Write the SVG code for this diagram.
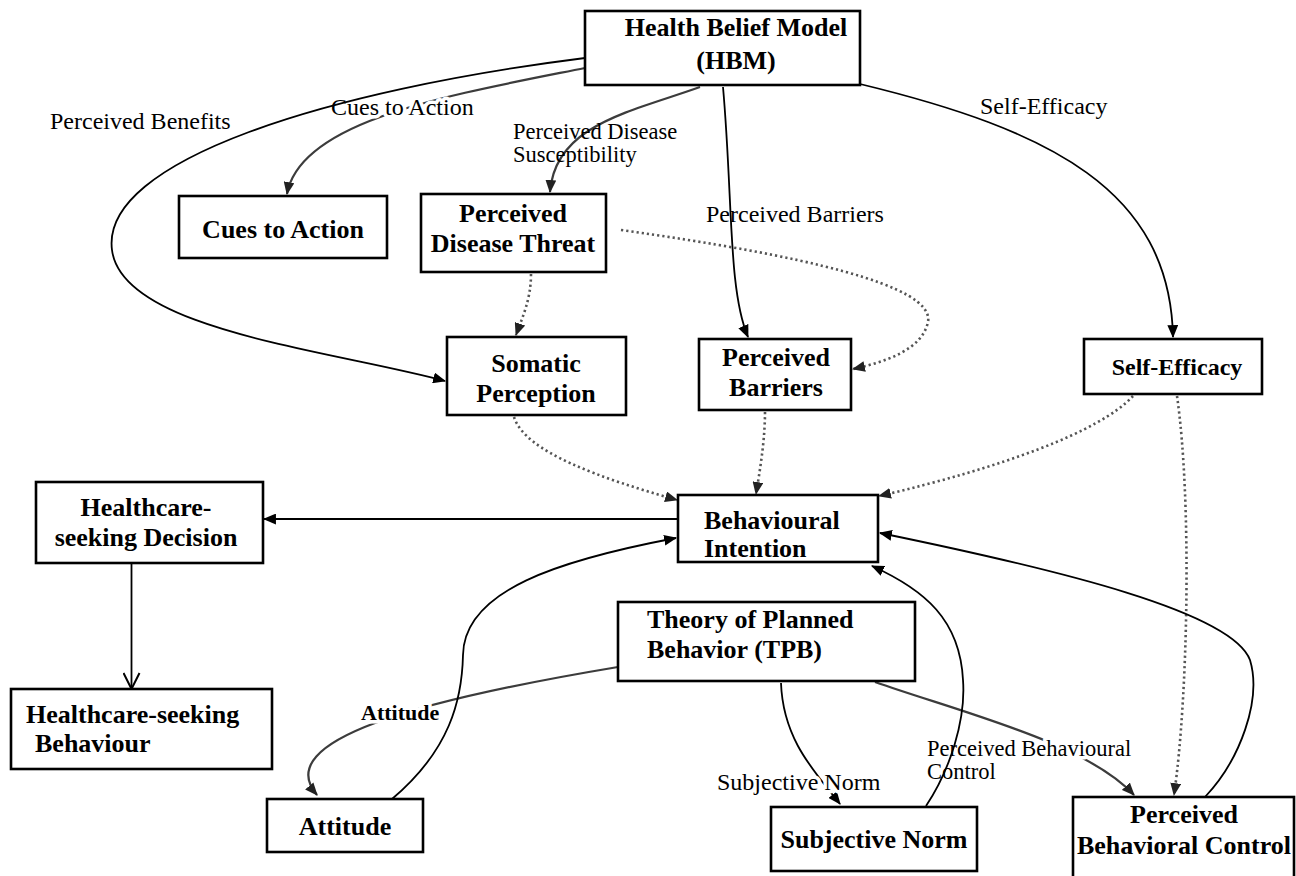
<svg xmlns="http://www.w3.org/2000/svg" width="1296" height="876" viewBox="0 0 1296 876">
<defs>
<style>
.box{fill:#fff;stroke:#000;stroke-width:2.6}
.nt{font-family:"Liberation Serif","Times New Roman",serif;font-weight:bold;font-size:26px;fill:#000;text-anchor:middle}
.ns{text-anchor:start}
.el{font-family:"Liberation Serif","Times New Roman",serif;font-size:24px;fill:#000}
.el2{font-size:22.5px}
.halo{stroke:#fff;stroke-width:7;paint-order:stroke;stroke-linejoin:round}
.solid{fill:none;stroke:#000;stroke-width:1.8}
.gray{fill:none;stroke:#3c3c3c;stroke-width:2.2}
.dot{fill:none;stroke:#555;stroke-width:2.6;stroke-dasharray:2.2 3}
</style>
<marker id="ah" viewBox="0 0 12 10" refX="11" refY="5" markerWidth="13" markerHeight="11" markerUnits="userSpaceOnUse" orient="auto">
<path d="M0,0 L12,5 L0,10 z" fill="#000"/>
</marker>
<marker id="ahg" viewBox="0 0 12 10" refX="11" refY="5" markerWidth="13" markerHeight="11" markerUnits="userSpaceOnUse" orient="auto">
<path d="M0,0 L12,5 L0,10 z" fill="#222"/>
</marker>
<marker id="av" viewBox="0 0 18 18" refX="17" refY="9" markerWidth="18" markerHeight="18" markerUnits="userSpaceOnUse" orient="auto">
<path d="M1,1 L17,9 L1,17" fill="none" stroke="#000" stroke-width="2"/>
</marker>
</defs>
<rect width="1296" height="876" fill="#fff"/>
<g id="connectors">
<path class="gray" d="M875,682 C960,712 1085,742 1134,795" marker-end="url(#ahg)"/>
<path class="solid" d="M781,683 C783,740 815,772 840,804" marker-end="url(#ah)"/>
<path class="gray" d="M618,667 C420,700 270,740 317,795" marker-end="url(#ahg)"/>
<path class="gray" d="M585,68 C450,95 300,120 287,194" marker-end="url(#ahg)"/>
<text class="el halo" x="331" y="115">Cues to Action</text>
<text class="el halo" x="361" y="720" style="font-weight:bold;font-size:22px">Attitude</text>
<text class="el halo" x="717" y="790">Subjective Norm</text>
<text class="el el2 halo" x="927" y="756">Perceived Behavioural</text>
<text class="el el2 halo" x="927" y="779">Control</text>
<path class="solid" d="M585,58 C330,90 100,160 112,250 C122,330 330,350 445,381" marker-end="url(#ah)"/>
<path class="gray" d="M700,87 C630,112 555,125 550,192" marker-end="url(#ahg)"/>
<path class="solid" d="M723,87 C733,200 728,290 748,337" marker-end="url(#ah)"/>
<path class="solid" d="M860,84 C1050,130 1170,190 1173,337" marker-end="url(#ah)"/>
<path class="dot" d="M531,274 C531,300 522,318 516,335" marker-end="url(#ahg)"/>
<path class="dot" d="M621,230 C800,255 935,285 928,322 C922,350 885,362 853,369" marker-end="url(#ahg)"/>
<path class="dot" d="M514,417 C525,452 600,478 677,500" marker-end="url(#ahg)"/>
<path class="dot" d="M765,412 C765,440 760,470 756,494" marker-end="url(#ahg)"/>
<path class="dot" d="M1133,396 C1100,432 1000,468 879,496" marker-end="url(#ahg)"/>
<path class="dot" d="M1177,396 C1192,500 1188,700 1174,795" marker-end="url(#ahg)"/>
<path class="solid" d="M678,519 L264,519" marker-end="url(#ah)"/>
<path class="solid" d="M131.5,563 L131.5,689" marker-end="url(#av)"/>
<path class="solid" d="M392,799 C450,750 462,700 463,655 C464,590 560,560 676,538" marker-end="url(#ah)"/>
<path class="solid" d="M926,806 C950,770 966,720 963,680 C960,620 925,590 872,566" marker-end="url(#ah)"/>
<path class="solid" d="M1205,797 C1240,760 1262,700 1250,660 C1232,612 1060,570 880,533" marker-end="url(#ah)"/>
<text class="el" x="50" y="129">Perceived Benefits</text>
<text class="el el2" x="513" y="139">Perceived Disease</text>
<text class="el el2" x="513" y="162">Susceptibility</text>
<text class="el" x="706" y="222">Perceived Barriers</text>
<text class="el" x="980" y="114">Self-Efficacy</text>
</g>
<g id="hbm"><rect class="box" x="585" y="11" width="275" height="74"/><text class="nt" x="736" y="36">Health Belief Model</text><text class="nt" x="736" y="69">(HBM)</text></g>
<g id="cues"><rect class="box" x="179" y="196" width="208" height="62"/><text class="nt" x="283" y="238">Cues to Action</text></g>
<g id="pdt"><rect class="box" x="421" y="194" width="185" height="78"/><text class="nt" x="513" y="222">Perceived</text><text class="nt" x="513" y="252">Disease Threat</text></g>
<g id="somatic"><rect class="box" x="447" y="337" width="179" height="78"/><text class="nt" x="536" y="372">Somatic</text><text class="nt" x="536" y="402">Perception</text></g>
<g id="barriers"><rect class="box" x="699" y="339" width="152" height="71"/><text class="nt" x="776" y="366">Perceived</text><text class="nt" x="776" y="396">Barriers</text></g>
<g id="selfefficacy"><rect class="box" x="1084" y="339" width="178" height="55"/><text class="nt" x="1177" y="375" style="font-size:24px">Self-Efficacy</text></g>
<g id="intention"><rect class="box" x="678" y="495" width="200" height="67"/><text class="nt ns" x="704" y="529">Behavioural</text><text class="nt ns" x="704" y="557">Intention</text></g>
<g id="decision"><rect class="box" x="36" y="482" width="227" height="81"/><text class="nt" x="146" y="516">Healthcare-</text><text class="nt" x="146" y="546">seeking Decision</text></g>
<g id="behaviour"><rect class="box" x="11" y="689" width="261" height="80"/><text class="nt ns" x="26" y="723">Healthcare-seeking</text><text class="nt ns" x="35" y="752">Behaviour</text></g>
<g id="tpb"><rect class="box" x="618" y="602" width="297" height="79"/><text class="nt ns" x="647" y="628">Theory of Planned</text><text class="nt ns" x="647" y="658">Behavior (TPB)</text></g>
<g id="attitude"><rect class="box" x="267" y="799" width="156" height="53"/><text class="nt" x="345" y="835">Attitude</text></g>
<g id="subjectivenorm"><rect class="box" x="771" y="807" width="206" height="64"/><text class="nt" x="874" y="848">Subjective Norm</text></g>
<g id="pbc"><rect class="box" x="1073" y="797" width="221" height="100"/><text class="nt" x="1184" y="823">Perceived</text><text class="nt" x="1184" y="854">Behavioral Control</text></g>
</svg>
